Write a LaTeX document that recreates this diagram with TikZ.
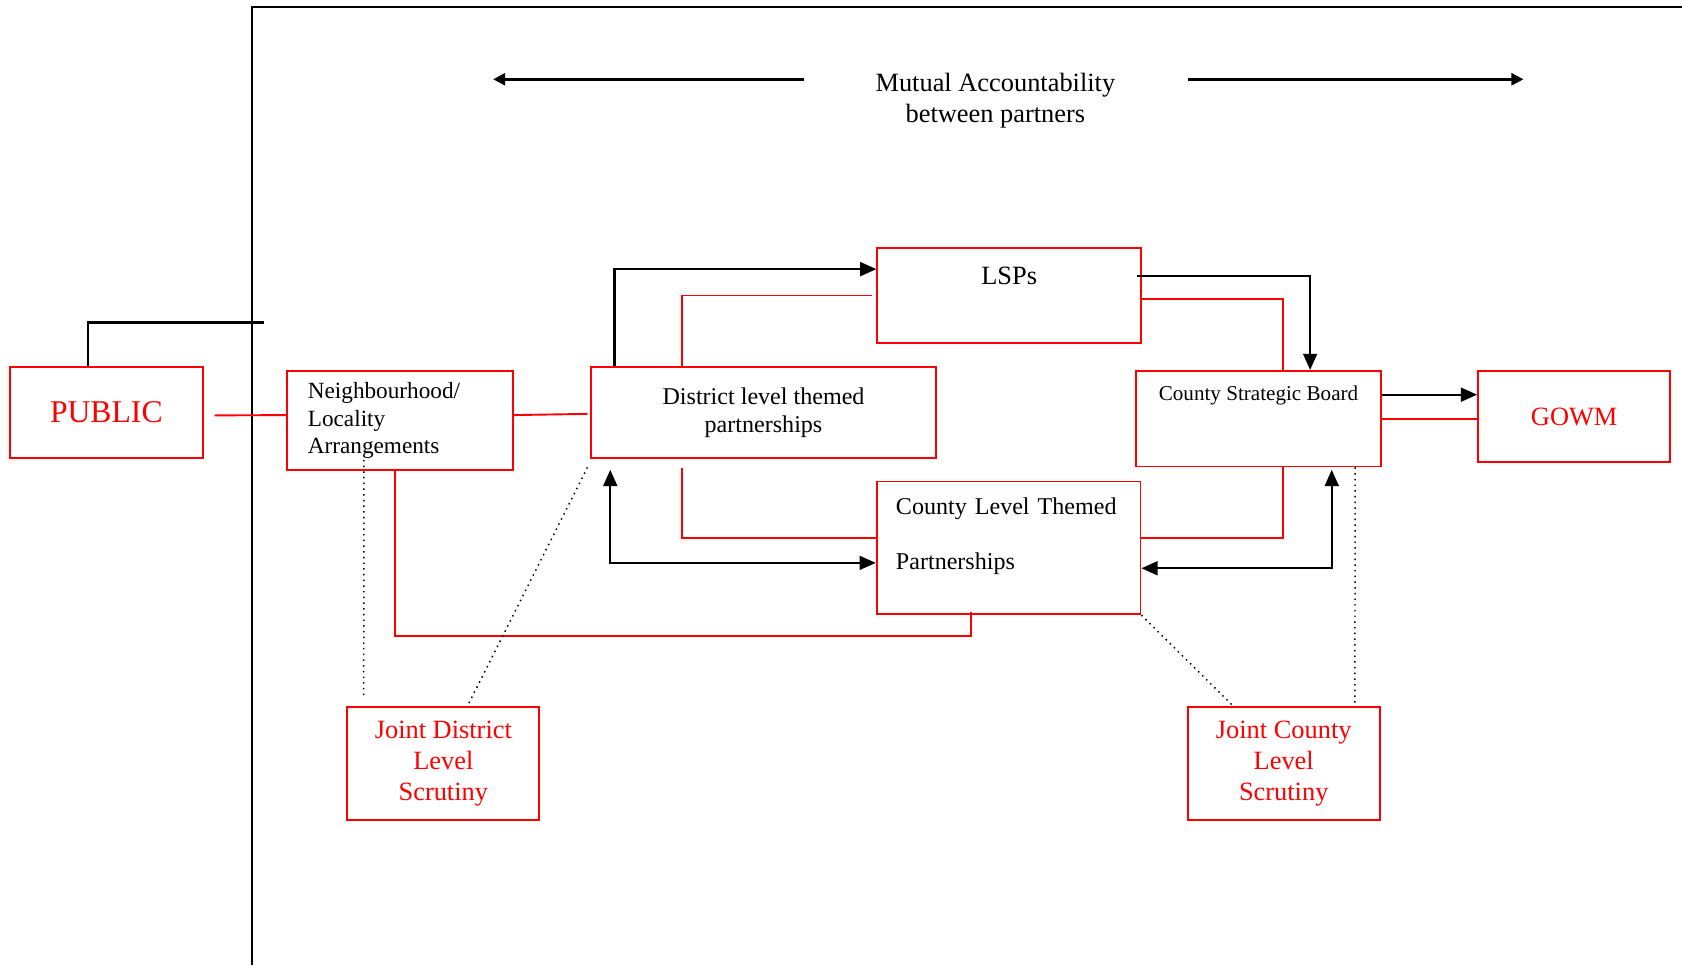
\documentclass[tikz,border=0pt]{standalone}
\usepackage{fontspec}
\setmainfont{Liberation Serif}
\usetikzlibrary{arrows.meta}
\definecolor{boxred}{RGB}{255,0,0}

\begin{document}
\begin{tikzpicture}[
    redbox/.style={draw=boxred, line width=0.9pt, inner sep=0pt, align=center},
    redline/.style={draw=boxred, line width=0.9pt},
    arr/.style={-{Triangle[length=0.27cm,width=0.23cm]}, line width=1.1pt},
    dblarr/.style={{Triangle[length=0.27cm,width=0.23cm]}-{Triangle[length=0.27cm,width=0.23cm]}, line width=1.1pt},
    toparr/.style={-{Triangle[length=0.2cm,width=0.2cm]}, line width=1.2pt},
    dotline/.style={dotted, line width=0.7pt},
    every node/.style={font=\fontsize{11.4}{13.2}\selectfont}]

    \useasboundingbox (0,0) rectangle (28,16.07);

    % === Frame ===
    \draw[line width=1pt] (4.20,0) -- (4.20,15.95) -- (28,15.95);

    % === Mutual accountability ===
    \node[align=center, font=\fontsize{12.5}{14.7}\selectfont] (mutual) at (16.57,14.40) {Mutual Accountability\\between partners};
    \coordinate (accl1) at (13.39,14.75);
    \coordinate (accl2) at (8.21,14.75);
    \coordinate (accr1) at (19.77,14.75);
    \coordinate (accr2) at (25.36,14.75);
    \draw[toparr] (accl1) -- (accl2);
    \draw[toparr] (accr1) -- (accr2);

    % === Boxes ===
    \node[redbox, minimum width=3.21cm, minimum height=1.52cm, text=boxred, font=\fontsize{15}{18}\selectfont] (public) at (1.77,9.205) {PUBLIC};
    \node[redbox, minimum width=3.75cm, minimum height=1.64cm, text width=3.07cm, align=left, font=\fontsize{11}{13}\selectfont] (neigh) at (6.66,9.07) {Neighbourhood/\\Locality\\Arrangements};
    \node[redbox, minimum width=5.75cm, minimum height=1.52cm] (district) at (12.71,9.205) {District level themed\\partnerships};
    \node[redbox, minimum width=4.39cm, minimum height=1.59cm, text height=0.61cm, text depth=0.98cm, font=\fontsize{12.5}{14.7}\selectfont] (lsps) at (16.80,11.15) {LSPs};
    \node[redbox, minimum width=4.07cm, minimum height=1.59cm, text height=0.5cm, text depth=1.09cm, font=\fontsize{10}{12}\selectfont] (csb) at (20.95,9.10) {County Strategic Board};
    \node[redbox, minimum width=3.20cm, minimum height=1.52cm, text=boxred, font=\fontsize{12.5}{14.7}\selectfont] (gowm) at (26.205,9.134) {GOWM};
    \node[redbox, minimum width=4.39cm, minimum height=2.21cm, text width=3.75cm, align=left] (county) at (16.79,6.95) {County Level Themed\\[0.45cm]Partnerships\\\mbox{}};
    \node[redbox, minimum width=3.20cm, minimum height=1.89cm, text=boxred, font=\fontsize{12.5}{14.7}\selectfont] (jdls) at (7.38,3.36) {Joint District\\Level\\Scrutiny};
    \node[redbox, minimum width=3.20cm, minimum height=1.89cm, text=boxred, font=\fontsize{12.5}{14.7}\selectfont] (jcls) at (21.37,3.36) {Joint County\\Level\\Scrutiny};

    % === Public links ===
    \coordinate (pubend) at (4.39,10.70);
    \draw[line width=1.1pt] ([xshift=-0.31cm]public.north) |- (pubend);
    \draw[redline] ([xshift=0.18cm,yshift=-0.05cm]public.east) -- ([yshift=0.09cm]neigh.west);
    \draw[redline] ([yshift=0.09cm]neigh.east) -- ([xshift=-0.04cm,yshift=-0.025cm]district.west);

    % === Upper links ===
    \draw[arr] ([xshift=0.41cm]district.north west) |- ([yshift=0.44cm]lsps.west);
    \draw[redline] ([xshift=1.54cm]district.north west) |- ([xshift=-0.07cm]lsps.west);
    \draw[arr] ([xshift=-0.09cm,yshift=0.33cm]lsps.east) -| ([xshift=2.91cm]csb.north west);
    \draw[redline] ([yshift=-0.06cm]lsps.east) -| ([xshift=2.46cm]csb.north west);
    \draw[arr] ([yshift=0.4cm]csb.east) -- ([yshift=0.4cm]csb.east -| gowm.west);
    \draw[redline] (csb.east) -- (csb.east -| gowm.west);

    % === Lower links ===
    \draw[redline] ([xshift=1.54cm,yshift=-0.15cm]district.south west) |- ([yshift=0.16cm]county.west);
    \draw[dblarr] ([xshift=0.34cm,yshift=-0.18cm]district.south west) |- ([yshift=-0.25cm]county.west);
    \draw[redline] ([yshift=0.16cm]county.east) -| ([xshift=2.46cm]csb.south west);
    \draw[dblarr] ([xshift=3.27cm,yshift=-0.04cm]csb.south west) |- ([yshift=-0.34cm]county.east);
    \draw[redline] ([xshift=1.8cm]neigh.south west) |- ([xshift=1.59cm,yshift=-0.34cm]county.south west) -- ([xshift=1.59cm,yshift=0.05cm]county.south west);

    % === Scrutiny links ===
    \draw[dotline] ([xshift=1.29cm,yshift=0.18cm]neigh.south west) -- ([xshift=0.29cm,yshift=0.12cm]jdls.north west);
    \draw[dotline] ([xshift=-0.04cm,yshift=-0.14cm]district.south west) -- ([xshift=2.02cm]jdls.north west);
    \draw[dotline] (county.south east) -- ([xshift=0.77cm]jcls.north west);
    \draw[dotline] ([xshift=3.66cm]csb.south west) -- ([xshift=2.80cm]jcls.north west);
\end{tikzpicture}
\end{document}
